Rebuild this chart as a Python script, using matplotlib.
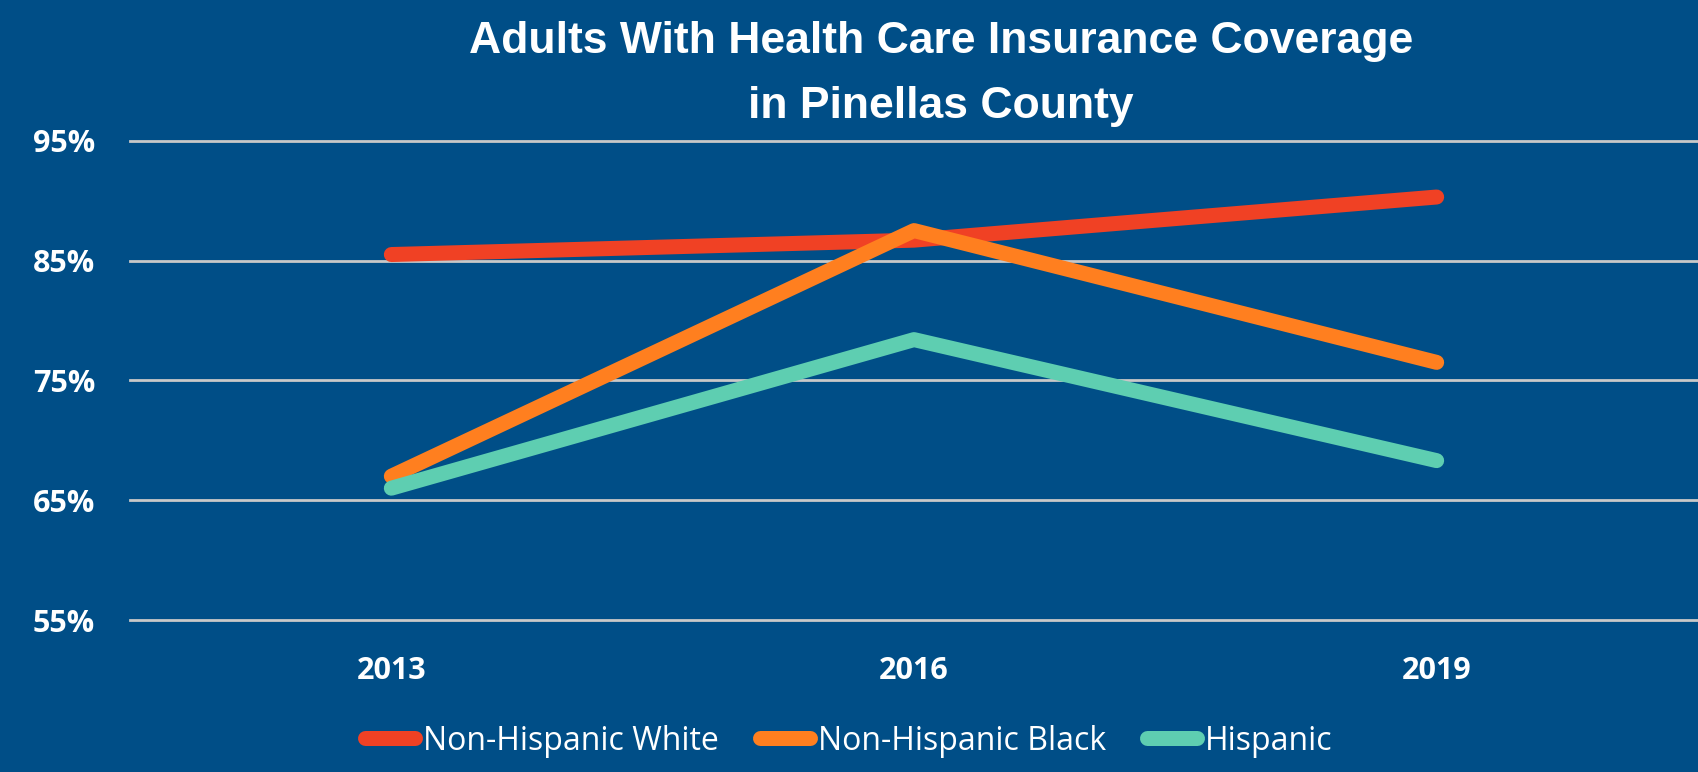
import numpy as np
import matplotlib
matplotlib.use("Agg")
import matplotlib.pyplot as plt

years = ["2013", "2016", "2019"]
white = [85.5, 86.7, 90.3]
black = [67.0, 87.5, 76.5]
hispanic = [66.0, 78.4, 68.3]
series_names = ["Non-Hispanic White", "Non-Hispanic Black", "Hispanic"]
y_ticks = [55, 65, 75, 85, 95]

bg = "#004E87"
colors = ["#F04124", "#FF7F1F", "#5ECEB1"]

fig = plt.figure(figsize=(16.98, 7.72), dpi=100, facecolor=bg)
ax = fig.add_axes([130/1698, 1 - 620/772, 1 - 130/1698, (620 - 140.7)/772])
ax.set_facecolor(bg)

x = np.arange(len(years))
for vals, name, c in zip([white, black, hispanic], series_names, colors):
    ax.plot(x, vals, color=c, lw=10.8, solid_capstyle="round",
            solid_joinstyle="round", label=name, zorder=3)

ax.set_xlim(-0.5, 2.5)
ax.set_ylim(55, 95)
ax.set_yticks(y_ticks)
ax.set_yticklabels([f"{v}%" for v in y_ticks])
ax.set_xticks(x)
ax.set_xticklabels(years)
ax.grid(axis="y", color="#C8C8C8", lw=2, zorder=1)
for gl in ax.get_ygridlines():
    gl.set_clip_on(False)
ax.tick_params(length=0, colors="white")
ax.tick_params(axis="y", pad=25)
ax.tick_params(axis="x", pad=26)
for lab in ax.get_xticklabels() + ax.get_yticklabels():
    lab.set_fontfamily(["Open Sans", "DejaVu Sans"])
    lab.set_fontweight("bold")
    lab.set_fontsize(22)
for s in ax.spines.values():
    s.set_visible(False)

title_font = ["Liberation Sans", "DejaVu Sans"]
fig.text(941/1698, 1 - 53/772, "Adults With Health Care Insurance Coverage",
         ha="center", va="baseline", color="white", fontsize=32,
         fontweight="bold", family=title_font)
fig.text(941/1698, 1 - 118/772, "in Pinellas County",
         ha="center", va="baseline", color="white", fontsize=32,
         fontweight="bold", family=title_font)

leg = fig.legend(loc="center", bbox_to_anchor=(0.5, 1 - 741/772), ncol=3,
                 frameon=False, handlelength=1.55, handletextpad=0.25,
                 columnspacing=1.3,
                 prop={"family": ["Open Sans", "DejaVu Sans"], "size": 23})
for t in leg.get_texts():
    t.set_color("white")

fig.savefig("out.png", dpi=100, facecolor=bg)
